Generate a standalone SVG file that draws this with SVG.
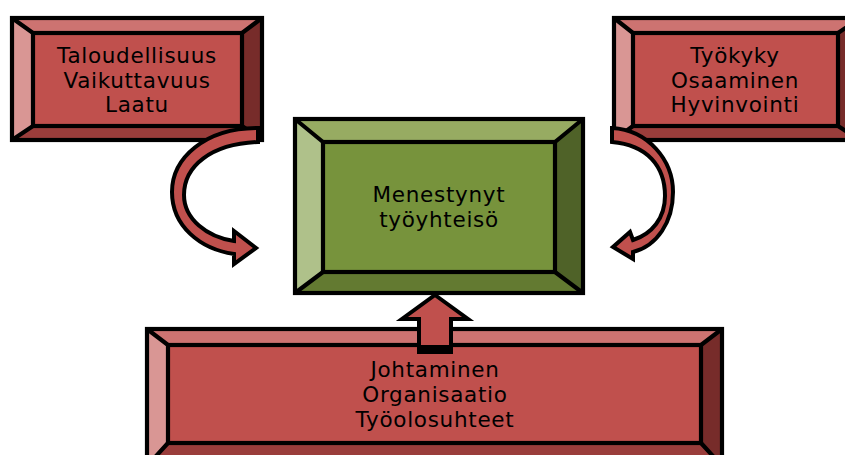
<svg xmlns="http://www.w3.org/2000/svg" width="845" height="455" viewBox="0 0 845 455">
  <style>
    .edge { stroke: #000; stroke-width: 4.2; stroke-linejoin: miter; fill: none; }
    .r-c { fill: #C0504D; }
    .r-t { fill: #CD7371; }
    .r-l { fill: #D99694; }
    .r-r { fill: #772C2A; }
    .r-b { fill: #9A3D3B; }
    .g-c { fill: #77933C; }
    .g-t { fill: #97AB62; }
    .g-l { fill: #AFC18A; }
    .g-r { fill: #4F6228; }
    .g-b { fill: #637A31; }
    .lbl { font-family: "DejaVu Sans", "Noto Sans", sans-serif; font-size: 21.5px; letter-spacing: 0.7px; fill: #000; text-anchor: middle; }
    .arrow { fill: #C0504D; stroke: #000; stroke-width: 4; stroke-linejoin: miter; }
  </style>
  <rect width="845" height="455" fill="#fff"/>

  <!-- top-left bevelled box -->
  <g id="box-talous">
    <polygon class="r-t" points="12,18 262,18 242,33 33,33"/>
    <polygon class="r-l" points="12,18 33,33 33,126 12,140"/>
    <polygon class="r-r" points="262,18 262,140 242,126 242,33"/>
    <polygon class="r-b" points="12,140 33,126 242,126 262,140"/>
    <rect class="r-c" x="33" y="33" width="209" height="93"/>
    <path class="edge" d="M12,18 L33,33 M262,18 L242,33 M12,140 L33,126 M262,140 L242,126"/>
    <rect class="edge" x="12" y="18" width="250" height="122"/>
    <rect class="edge" x="33" y="33" width="209" height="93"/>
    <text class="lbl" x="137" y="63">Taloudellisuus</text>
    <text class="lbl" x="137" y="88">Vaikuttavuus</text>
    <text class="lbl" x="137" y="112">Laatu</text>
  </g>

  <!-- top-right bevelled box (runs past the right edge) -->
  <g id="box-tyokyky">
    <polygon class="r-t" points="614,18 860,18 838,33 633,33"/>
    <polygon class="r-l" points="614,18 633,33 633,126 614,140"/>
    <polygon class="r-r" points="860,18 860,140 838,126 838,33"/>
    <polygon class="r-b" points="614,140 633,126 838,126 860,140"/>
    <rect class="r-c" x="633" y="33" width="205" height="93"/>
    <path class="edge" d="M614,18 L633,33 M860,18 L838,33 M614,140 L633,126 M860,140 L838,126"/>
    <rect class="edge" x="614" y="18" width="246" height="122"/>
    <rect class="edge" x="633" y="33" width="205" height="93"/>
    <text class="lbl" x="735" y="63">Työkyky</text>
    <text class="lbl" x="735" y="88">Osaaminen</text>
    <text class="lbl" x="735" y="112">Hyvinvointi</text>
  </g>

  <!-- central green box -->
  <g id="box-menestys">
    <polygon class="g-t" points="295,119 583,119 555,142 323,142"/>
    <polygon class="g-l" points="295,119 323,142 323,272 295,293"/>
    <polygon class="g-r" points="583,119 583,293 555,272 555,142"/>
    <polygon class="g-b" points="295,293 323,272 555,272 583,293"/>
    <rect class="g-c" x="323" y="142" width="232" height="130"/>
    <path class="edge" d="M295,119 L323,142 M583,119 L555,142 M295,293 L323,272 M583,293 L555,272"/>
    <rect class="edge" x="295" y="119" width="288" height="174"/>
    <rect class="edge" x="323" y="142" width="232" height="130"/>
    <text class="lbl" x="439" y="202">Menestynyt</text>
    <text class="lbl" x="439" y="227">työyhteisö</text>
  </g>

  <!-- bottom wide box (runs past the bottom edge) -->
  <g id="box-johtaminen">
    <polygon class="r-t" points="147,329 722,329 701,345 168,345"/>
    <polygon class="r-l" points="147,329 168,345 168,443 147,466"/>
    <polygon class="r-r" points="722,329 722,466 701,443 701,345"/>
    <polygon class="r-b" points="147,466 168,443 701,443 722,466"/>
    <rect class="r-c" x="168" y="345" width="533" height="98"/>
    <path class="edge" d="M147,329 L168,345 M722,329 L701,345 M147,466 L168,443 M722,466 L701,443"/>
    <rect class="edge" x="147" y="329" width="575" height="137"/>
    <rect class="edge" x="168" y="345" width="533" height="98"/>
    <text class="lbl" x="435" y="377">Johtaminen</text>
    <text class="lbl" x="435" y="402">Organisaatio</text>
    <text class="lbl" x="435" y="427">Työolosuhteet</text>
  </g>

  <!-- connectors -->
  <g id="connectors">
    <!-- curved arrow from the left box -->
    <path class="arrow" d="M258,128 C205,128 172,158 172,192 C172,226 200,249 234,254 L234,264 L256,248 L234,231 L234,241 C207,237 184,219 184,195 C184,166 211,144 258,142 Z"/>
    <!-- curved arrow from the right box -->
    <path class="arrow" d="M612,128 C648,130 673,160 673,192 C673,222 657,246 633,252 L633,259 L613,247 L630,232 L633,240 C652,234 665,218 665,196 C665,166 647,145 612,142 Z"/>
    <!-- straight arrow up from the bottom box -->
    <polygon class="arrow" points="435,295 468,319 451,319 451,352 419,352 419,319 402,319"/>
    <rect x="418" y="345" width="34" height="8" fill="#000"/>
  </g>
</svg>
